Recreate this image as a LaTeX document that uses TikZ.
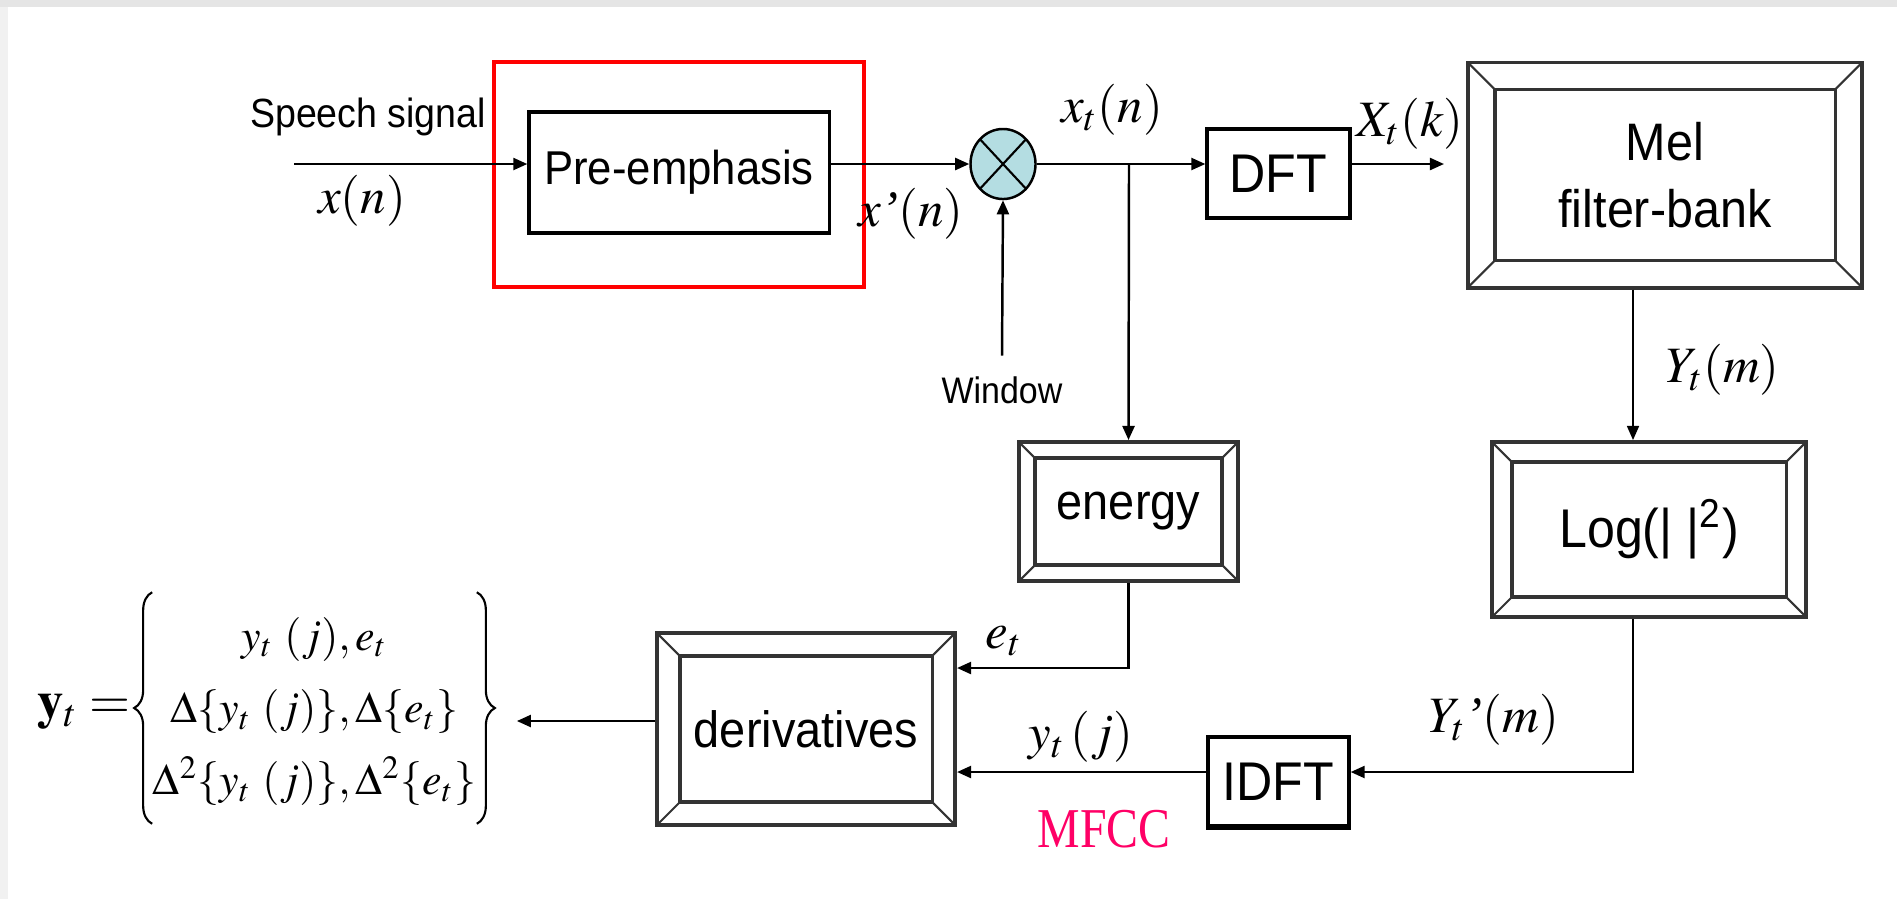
\documentclass[tikz,border=0pt]{standalone}
\usepackage{mathptmx}
\usepackage{fontspec}
\setmainfont{Liberation Serif}
\newfontfamily\blockfont{Liberation Sans}[FakeStretch=0.92]
\usetikzlibrary{arrows.meta,shapes.geometric,decorations.pathreplacing}
\definecolor{mixfill}{RGB}{180,221,226}
\definecolor{mfccpink}{RGB}{255,0,102}
\definecolor{topgray}{RGB}{229,229,229}
\definecolor{sidegray}{RGB}{241,241,241}

\begin{document}
\begin{tikzpicture}[x=0.01cm, y=-0.01cm,
    block/.style={draw, line width=0.9pt, inner sep=0pt,
      font=\blockfont\fontsize{14.5}{17}\selectfont, align=center},
    bevel/.style={block, line width=1.1pt, draw=black!80,
      path picture={
        \draw[line width=0.9pt]
          ([shift={(#1,-#1)}]path picture bounding box.north west) rectangle
          ([shift={(-#1,#1)}]path picture bounding box.south east);
        \draw[line width=0.6pt]
          (path picture bounding box.north west) -- ++(#1,-#1)
          (path picture bounding box.north east) -- ++(-#1,-#1)
          (path picture bounding box.south west) -- ++(#1,#1)
          (path picture bounding box.south east) -- ++(-#1,#1);
      }},
    mixer/.style={ellipse, draw, line width=0.7pt, fill=mixfill,
      minimum width=0.65cm, minimum height=0.70cm, inner sep=0pt,
      path picture={
        \draw[line width=0.6pt]
          (path picture bounding box.north west) -- (path picture bounding box.south east)
          (path picture bounding box.north east) -- (path picture bounding box.south west);
      }},
    link/.style={line width=0.7pt, -{Triangle[length=4pt,width=3.4pt]}},
    lbl/.style={inner sep=0pt, font=\fontsize{14.5}{17}\selectfont},
    note/.style={inner sep=0pt, font=\blockfont\fontsize{11.6}{13}\selectfont},
    curly/.style={decorate, decoration={brace, amplitude=0.18cm}, line width=0.6pt}
  ]
  % page
  \fill[white] (0,0) rectangle (1897,899);
  \fill[sidegray] (0,0) rectangle (8,899);
  \fill[topgray] (0,0) rectangle (1897,7);
  \useasboundingbox (0,0) rectangle (1897,899);

  % Front end
  \coordinate (src) at (294,164);
  \node[note] (speech) at (368,117) {Speech signal};
  \node[lbl] (xn) at (362,201) {$x(n)$};
  \node[draw=red, line width=1.1pt, minimum width=3.70cm, minimum height=2.25cm]
    (redframe) at (679,174.5) {};
  \node[block, minimum width=3.00cm, minimum height=1.21cm,
    font=\blockfont\fontsize{13.5}{16}\selectfont] (pre) at (679,172.5) {Pre-emphasis};
  \draw[link] (src) -- (src -| pre.west);
  \node[mixer] (mult) at (1003,164) {};
  \draw[link] (src -| pre.east) -- (mult.west);
  \node[lbl] (xpn) at (911,214) {$x\mbox{\itshape ’}(n)$};
  \node[note, font=\blockfont\fontsize{10.5}{12}\selectfont] (win) at (1002,390) {Window};
  \draw[link] ([yshift=0.2cm]win.north) -- (mult.south);

  % Spectrum
  \node[lbl] (xtn) at (1112,110) {$x_t(n)$};
  \node[block, minimum width=1.43cm, minimum height=0.89cm,
    font=\blockfont\fontsize{15.5}{17}\selectfont] (dft) at (1278.5,173.5) {DFT};
  \draw[link] (mult.east) -- (mult.east -| dft.west);
  \coordinate (melin) at (1444,164);
  \draw[link] (mult.east -| dft.east) -- (melin);
  \node[lbl] (xtk) at (1410,124) {$X_t(k)$};
  \node[bevel=2.7mm, minimum width=3.94cm, minimum height=2.25cm,
    font=\blockfont\fontsize{15}{19}\selectfont] (mel) at (1665,175) {Mel\\filter-bank};
  \coordinate (mlx) at (1633,0);
  \node[bevel=2.0mm, minimum width=3.14cm, minimum height=1.75cm,
    font=\blockfont\fontsize{15.5}{17}\selectfont] (log) at (1649,529.5)
    {Log(|~|\textsuperscript{2})};
  \draw[link, line width=0.5pt] (mlx |- mel.south) -- (mlx |- log.north);
  \node[lbl] (ytm) at (1723,370) {$Y_t(m)$};

  % Energy branch
  \coordinate (tap) at (1129,164);
  \node[bevel=1.6mm, minimum width=2.19cm, minimum height=1.39cm] (energy)
    at (1128.5,511.5) {energy};
  \draw[link] (tap) -- (energy.north);

  % Cepstrum
  \coordinate (lowy) at (0,772);
  \coordinate (ety) at (0,668);
  \coordinate (outy) at (0,721);
  \node[block, minimum width=1.41cm, minimum height=0.89cm,
    font=\blockfont\fontsize{15.5}{17}\selectfont] (idft) at (1278.5,781.5) {IDFT};
  \draw[line width=1.5pt] (idft.south west) -- (idft.south east);
  \draw[link] (mlx |- log.south) |- (lowy -| idft.east);
  \node[lbl] (ytpm) at (1494,720) {$Y_t\mbox{\itshape ’}(m)$};
  \node[bevel=2.3mm, minimum width=2.98cm, minimum height=1.92cm] (deriv)
    at (806,729) {derivatives};
  \draw[link] (lowy -| idft.west) -- (lowy -| deriv.east);
  \draw[link] (energy.south) |- (ety -| deriv.east);
  \node[lbl] (et) at (1004,641) {$e_t$};
  \node[lbl] (ytj) at (1081,737) {$y_t\,(j)$};
  \node[inner sep=0pt, text=mfccpink, font=\fontsize{16}{18}\selectfont] (mfcc)
    at (1104,829) {\scalebox{0.85}[1]{MFCC}};

  % Feature vector
  \node[lbl, font=\fontsize{15}{17}\selectfont] (ylhs) at (84,712) {$\mathbf{y}_t=$};
  \node[inner sep=0pt, minimum width=3.17cm, minimum height=2.30cm,
    font=\fontsize{12.5}{15}\selectfont] (yrows) at (314.5,708)
    {$\renewcommand{\arraystretch}{1.37}\begin{array}{@{}c@{}}
      y_t\ (j),e_t\\
      \Delta\{y_t\ (j)\},\Delta\{e_t\}\\
      \Delta^2\{y_t\ (j)\},\Delta^2\{e_t\}
    \end{array}$};
  \draw[curly] (yrows.south west) -- (yrows.north west);
  \draw[curly] (yrows.north east) -- (yrows.south east);
  \draw[link] (outy -| deriv.west) -- ([xshift=0.4cm]outy -| yrows.east);
\end{tikzpicture}
\end{document}
